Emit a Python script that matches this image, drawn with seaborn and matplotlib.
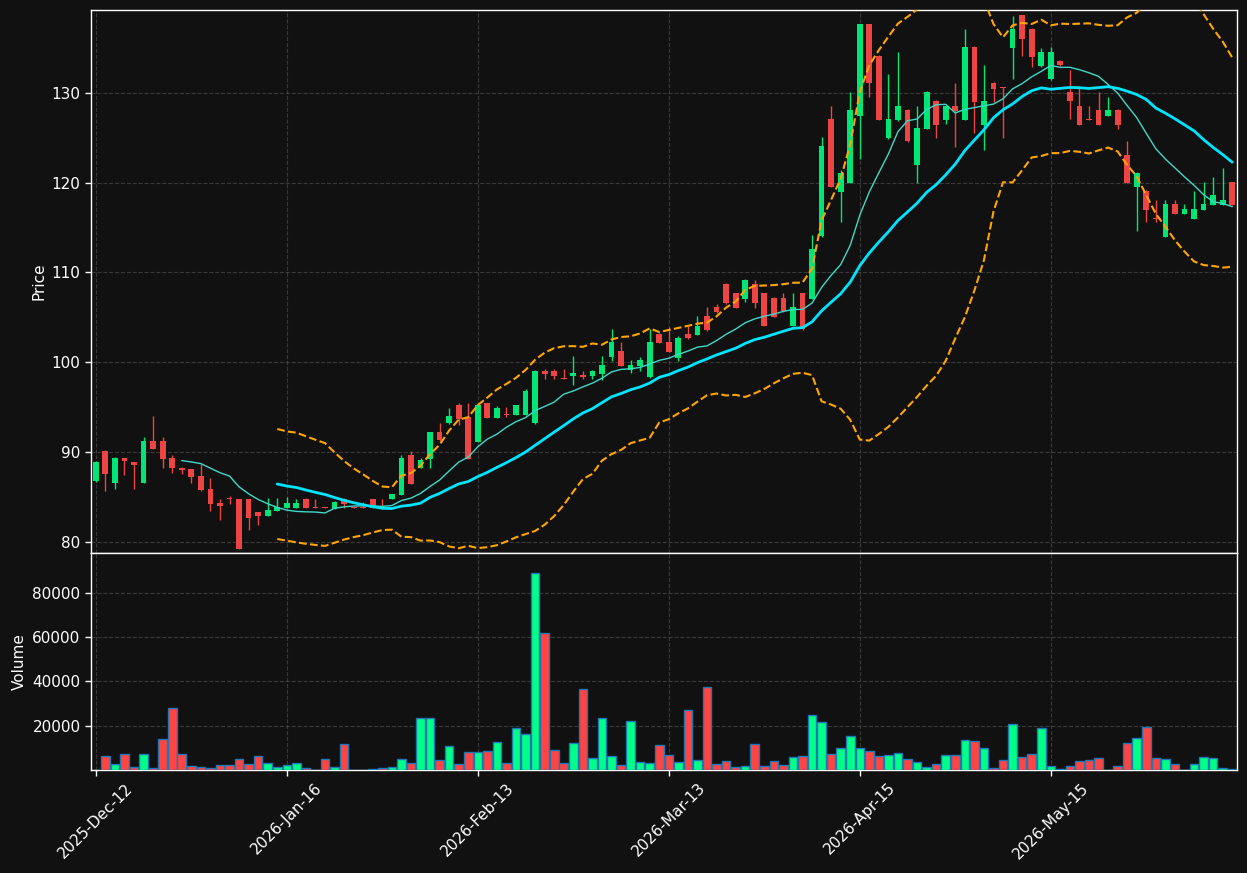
import numpy as np
import pandas as pd
import matplotlib
matplotlib.use("Agg")
import matplotlib.pyplot as plt
import seaborn as sns

# OHLC, one row per trading day (index 0..119)
opens = [86.8, 90.1, 86.6, 89.35, 88.9, 86.6, 91.25, 91.25, 89.35, 88.3,
         88.1, 87.35, 85.9, 84.35, 84.95, 84.8, 84.8, 83.35, 82.95, 83.5,
         83.8, 83.8, 84.8, 83.9, 83.9, 83.7, 84.85, 83.9, 83.9, 84.75,
         83.85, 84.8, 85.3, 89.65, 88.3, 89.3, 92.25, 93.2, 95.25, 93.9,
         91.15, 95.45, 93.85, 94.3, 94.15, 94.15, 93.2, 99.05, 99.05, 98.25,
         98.5, 98.6, 98.5, 98.7, 100.65, 101.25, 99.15, 99.6, 98.35, 103.15,
         102.25, 100.5, 103.15, 103.05, 105.15, 106.2, 108.75, 107.7, 107.1, 108.75,
         107.7, 107.2, 107.2, 104.1, 107.7, 107.1, 114.1, 127.1, 119.0, 120.0,
         127.45, 137.6, 134.1, 125.0, 127.0, 128.1, 122.0, 126.0, 129.1, 127.0,
         128.5, 127.0, 135.1, 126.4, 131.1, 130.6, 135.0, 138.6, 137.1, 133.0,
         131.5, 133.55, 130.1, 128.55, 127.1, 128.1, 127.45, 128.1, 123.1, 119.55,
         119.1, 116.1, 114.0, 117.65, 116.55, 116.0, 117.0, 117.55, 117.55, 120.05]
highs = [89.0, 90.2, 89.45, 89.4, 88.95, 91.65, 94.0, 91.65, 89.65, 88.35,
         88.15, 88.75, 87.1, 84.85, 85.1, 84.8, 84.8, 83.4, 84.9, 84.9,
         85.0, 84.85, 84.9, 84.75, 83.95, 84.55, 84.9, 83.95, 84.5, 84.8,
         84.8, 85.4, 89.65, 90.1, 89.35, 92.3, 93.2, 94.9, 95.45, 95.45,
         95.3, 95.5, 95.2, 95.05, 95.3, 97.05, 99.1, 99.25, 99.25, 99.25,
         100.7, 99.05, 99.1, 100.7, 103.7, 102.25, 100.25, 100.65, 103.7, 103.3,
         103.95, 102.9, 104.15, 105.15, 106.2, 106.5, 108.8, 107.75, 109.3, 109.2,
         107.75, 107.25, 107.7, 107.7, 107.75, 114.15, 125.05, 128.5, 121.4, 130.1,
         137.6, 137.6, 134.15, 132.1, 134.5, 128.15, 128.5, 130.15, 129.2, 128.55,
         131.1, 137.1, 135.15, 133.1, 131.15, 130.65, 138.5, 138.65, 137.15, 135.0,
         135.05, 133.6, 132.5, 130.5, 128.5, 130.1, 129.5, 128.15, 124.65, 121.15,
         119.15, 118.05, 118.05, 118.05, 117.65, 119.05, 120.05, 120.65, 121.65, 120.1]
lows = [86.7, 85.7, 85.9, 87.5, 85.9, 86.6, 90.4, 88.3, 87.65, 87.6,
        86.55, 85.7, 83.5, 82.5, 84.3, 79.25, 81.3, 81.9, 82.9, 83.45,
        83.75, 83.75, 83.75, 83.75, 83.8, 83.65, 83.8, 83.8, 83.75, 83.75,
        83.7, 84.75, 85.25, 86.45, 88.25, 88.3, 91.3, 93.15, 93.0, 89.25,
        91.1, 93.8, 93.8, 93.95, 94.1, 94.1, 93.15, 98.2, 98.2, 98.1,
        97.45, 98.1, 98.2, 98.0, 100.2, 99.55, 98.8, 99.05, 98.3, 102.15,
        101.15, 100.2, 102.6, 103.0, 103.5, 105.5, 106.5, 106.05, 106.7, 106.1,
        104.05, 105.05, 105.65, 104.05, 103.65, 107.05, 114.0, 119.5, 115.6, 119.95,
        122.65, 129.5, 126.95, 124.9, 126.9, 124.55, 120.0, 125.95, 125.0, 126.5,
        124.0, 126.95, 125.5, 123.6, 129.0, 125.0, 131.5, 134.1, 132.9, 132.9,
        131.4, 133.0, 127.05, 126.4, 127.0, 126.4, 127.4, 126.0, 120.0, 114.6,
        115.6, 115.6, 113.95, 116.5, 116.5, 115.95, 116.95, 117.5, 117.5, 117.5]
closes = [88.9, 87.6, 89.35, 89.05, 88.6, 91.25, 90.4, 89.3, 88.3, 88.05,
          87.3, 85.8, 84.25, 84.05, 84.85, 79.25, 82.7, 82.95, 83.55, 83.9,
          84.35, 84.35, 83.8, 83.8, 83.85, 84.5, 84.25, 83.85, 83.8, 83.8,
          83.75, 85.35, 89.35, 86.5, 89.1, 92.25, 91.35, 94.0, 93.65, 89.3,
          95.25, 93.85, 94.9, 94.2, 95.25, 96.8, 99.05, 98.7, 98.5, 98.15,
          98.8, 98.4, 99.05, 99.7, 102.25, 99.6, 99.7, 100.25, 102.25, 102.2,
          101.2, 102.7, 102.7, 104.1, 103.6, 105.6, 106.6, 106.1, 109.2, 106.6,
          104.1, 105.1, 105.7, 106.2, 103.7, 112.6, 124.1, 119.55, 121.1, 128.1,
          137.6, 131.1, 127.0, 127.1, 128.5, 124.6, 126.1, 130.1, 126.4, 128.5,
          128.0, 135.1, 129.0, 129.1, 130.4, 130.5, 137.1, 136.0, 134.0, 134.5,
          134.5, 133.05, 129.05, 126.45, 127.0, 126.45, 128.1, 126.45, 120.0, 121.1,
          117.0, 116.0, 117.65, 116.55, 117.05, 117.05, 117.65, 118.65, 118.05, 117.55]
volumes = [0, 6300, 2700, 7200, 1350, 7200, 900, 14000, 28000, 7200,
           1800, 1350, 900, 2250, 2250, 5000, 2700, 6300, 3150, 1350,
           2250, 3150, 900, 200, 5000, 1350, 11700, 100, 150, 450,
           900, 1350, 5000, 3150, 23500, 23500, 4500, 10800, 2700, 8100,
           8100, 8550, 12600, 3150, 18950, 16250, 88900, 61800, 9000, 3150,
           12200, 36550, 5400, 23500, 6300, 2250, 22100, 3600, 3150, 11300,
           6750, 3600, 26900, 4500, 37450, 2700, 4050, 1350, 1800, 11700,
           1800, 4050, 2250, 5850, 6300, 24800, 21650, 7200, 9900, 15350,
           9900, 8550, 6300, 6750, 7650, 5000, 3600, 1350, 2700, 6750,
           6750, 13550, 13100, 9900, 900, 4500, 20600, 5850, 7200, 18950,
           1800, 300, 1800, 4050, 4500, 5400, 150, 1800, 12200, 14450,
           19400, 5400, 5000, 2700, 200, 2700, 5850, 5400, 900, 450]

tick_idx = [0, 20, 40, 60, 80, 100]
tick_labels = ["2025-Dec-12", "2026-Jan-16", "2026-Feb-13",
               "2026-Mar-13", "2026-Apr-15", "2026-May-15"]

df = pd.DataFrame({"open": opens, "high": highs, "low": lows,
                   "close": closes, "volume": volumes})
df["idx"] = np.arange(len(df))
df["sma10"] = df["close"].rolling(10).mean()
df["sma20"] = df["close"].rolling(20).mean()
std20 = df["close"].rolling(20).std(ddof=0)
df["bb_up"] = df["sma20"] + 2 * std20
df["bb_lo"] = df["sma20"] - 2 * std20

BG = "#111111"
UP_C, DOWN_C = "#00e676", "#ef4444"
VUP_C, VDOWN_C = "#00ff88", "#ff4444"

sns.set_style("dark", {"axes.facecolor": BG, "figure.facecolor": BG})
plt.rcParams["font.family"] = ["DejaVu Sans"]

fig = plt.figure(figsize=(12.47, 8.73), dpi=100, facecolor=BG)
ax1 = fig.add_axes([0.073, 0.3666, 0.919, 0.622])
ax2 = fig.add_axes([0.073, 0.118, 0.919, 0.2486], sharex=ax1)

up = df["close"] >= df["open"]

# candles
for i, r in df.iterrows():
    c = UP_C if up[i] else DOWN_C
    ax1.vlines(r["idx"], r["low"], r["high"], color=c, linewidth=1, zorder=3)
    body = max(abs(r["close"] - r["open"]), 0.1)
    ax1.bar(r["idx"], body, bottom=min(r["open"], r["close"]), width=0.6,
            color=c, edgecolor=c, linewidth=0, zorder=4)

sns.lineplot(data=df, x="idx", y="sma10", ax=ax1, color="#40d8c8", linewidth=1, zorder=5)
sns.lineplot(data=df, x="idx", y="sma20", ax=ax1, color="#00e5ff", linewidth=2, zorder=5)
sns.lineplot(data=df, x="idx", y="bb_up", ax=ax1, color="#ffa500", linewidth=1.5,
             linestyle="--", zorder=5)
sns.lineplot(data=df, x="idx", y="bb_lo", ax=ax1, color="#ffa500", linewidth=1.5,
             linestyle="--", zorder=5)

# volume
vcols = [VUP_C if u else VDOWN_C for u in up]
ax2.bar(df["idx"], df["volume"], width=0.9, color=vcols, edgecolor="#1f77b4",
        linewidth=1, zorder=3)

ax1.set_xlim(-0.5, 119.5)
ax1.set_ylim(78.8, 139.2)
ax2.set_ylim(0, 97900)
ax1.set_yticks([80, 90, 100, 110, 120, 130])
ax2.set_yticks([20000, 40000, 60000, 80000])
ax2.set_xticks(tick_idx)
ax2.set_xticklabels(tick_labels, rotation=45)
ax1.tick_params(axis="x", labelbottom=False)

ax1.set_ylabel("Price", color="white", fontsize=11)
ax2.set_ylabel("Volume", color="white", fontsize=11)
ax1.set_xlabel("")
ax2.set_xlabel("")

for ax in (ax1, ax2):
    ax.set_facecolor(BG)
    ax.grid(True, color="#555555", alpha=0.6, linestyle="--", linewidth=0.8)
    ax.set_axisbelow(True)
    ax.tick_params(colors="white", labelsize=11, length=4, width=1,
                   bottom=True, left=True)
    for s in ax.spines.values():
        s.set_color("white")
        s.set_linewidth(1)

fig.savefig("out.png", dpi=100, facecolor=BG)
